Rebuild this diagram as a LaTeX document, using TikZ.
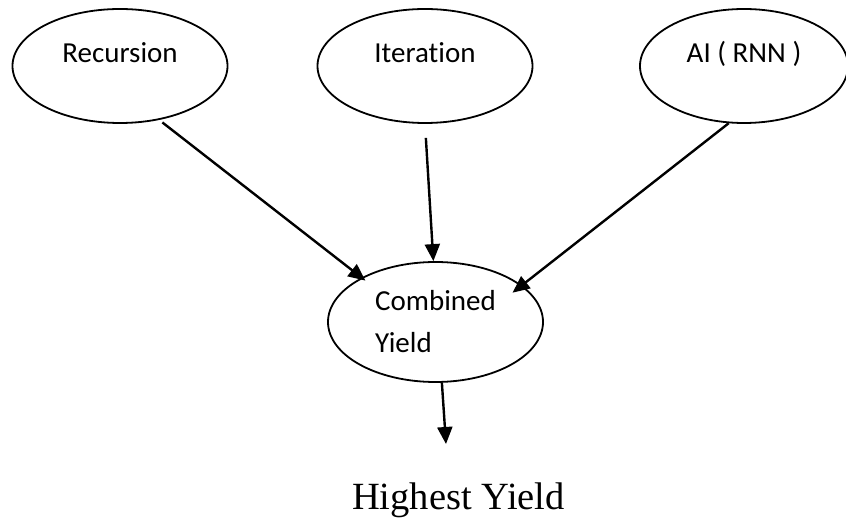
\documentclass[tikz,border=0pt]{standalone}
\usepackage{fontspec}
\setmainfont{Liberation Serif}
\newfontfamily\calfont[Ligatures=NoCommon]{Carlito}
\usepackage{tikz}
\usetikzlibrary{arrows.meta,shapes.geometric}
\definecolor{FlowInk}{HTML}{000000}

\begin{document}
\begin{tikzpicture}[>={Triangle[length=17pt,width=15pt]},x=1pt,y=-1pt,
  idea/.style={ellipse,draw=FlowInk,line width=1.8pt,minimum width=215pt,minimum height=114pt,
    font={\calfont\fontsize{29}{42}\selectfont},text height=20pt,text depth=27pt},
  flow/.style={->,draw=FlowInk,line width=2.4pt}]
  \useasboundingbox (0,0) rectangle (846,518);
  \node[idea] (rec) at (120,66) {Recursion};
  \node[idea] (itr) at (425,66) {Iteration};
  \node[idea,minimum width=208pt] (ai) at (744,66) {AI ( RNN )};
  \node[ellipse,draw=FlowInk,line width=1.8pt,minimum width=215pt,minimum height=120pt,
    font={\calfont\fontsize{29}{42}\selectfont},align=left] (comb) at (435.5,322)
    {\raisebox{-5pt}{Combined}\\\raisebox{-5pt}{Yield}};
  \draw[flow,shorten <=4pt,shorten >=-5pt] (rec.-54) -- (comb.149);
  \draw[flow,shorten <=14pt] (itr.south) -- (comb.92);
  \draw[flow,shorten >=-12pt] (ai.255) -- (comb.23);
  \coordinate (out) at (446,444);
  \draw[flow] (comb.-84) -- (out);
  \node[anchor=base,font={\fontsize{38.5}{46}\selectfont}] (best) at (458.5,509) {Highest Yield};
\end{tikzpicture}
\end{document}
